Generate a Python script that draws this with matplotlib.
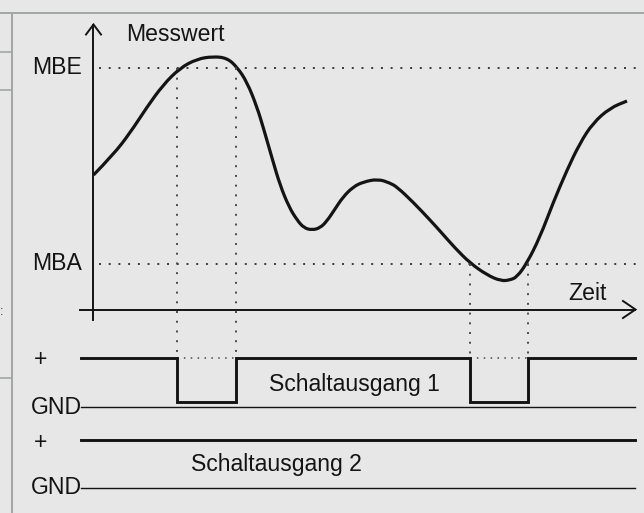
import matplotlib
matplotlib.use("Agg")
import matplotlib.pyplot as plt
from matplotlib.path import Path
from matplotlib.patches import PathPatch

plt.rcParams['font.family'] = ['Liberation Sans', 'DejaVu Sans']

# ---- data (pixel-space coordinates) ----
curve_x = [93.5, 113, 130, 147, 163, 180, 197, 213, 227, 237, 247, 257, 264, 272,
           280, 289, 297, 304, 312, 320, 327, 335, 343, 353, 363, 378, 390, 397,
           413, 430, 440, 455, 470, 487, 501, 510, 517, 527, 540, 553, 567, 580,
           593, 610, 627]
curve_y = [175, 155, 133, 107, 85, 68, 59, 56.5, 58, 67, 82, 107, 130, 158,
           185, 207, 220, 228, 230, 228, 221, 209, 197, 187, 182, 179, 183, 187,
           202, 220, 231, 248, 263, 275, 281, 280, 277, 263, 237, 203, 170, 143,
           123, 108, 101]

level_labels = ["MBE", "MBA"]
level_y = [68, 264]

switch_on_1 = [(177, 236), (470, 528)]   # time intervals where output 1 is low
signal_labels = ["Schaltausgang 1", "Schaltausgang 2"]
plus_y = [357.5, 440]
gnd_y = [407, 488]
low_y = 402
axis_label_y = "Messwert"
axis_label_x = "Zeit"

# ---- figure ----
BG = "#e6e7e6"
INK = "#141414"
GRID = "#a3a7a3"
FS = 16.6

fig = plt.figure(figsize=(6.44, 5.13), dpi=100)
fig.patch.set_facecolor(BG)
ax = fig.add_axes([0, 0, 1, 1])
ax.set_facecolor(BG)
ax.set_xlim(0, 644)
ax.set_ylim(513, 0)
ax.axis('off')

# table border fragments
ax.plot([0, 644], [13.3, 13.3], color=GRID, lw=1.4, solid_capstyle='butt')
ax.plot([12, 12], [13.3, 513], color=GRID, lw=1.4, solid_capstyle='butt')
for yy in [52, 90, 378]:
    ax.plot([0, 12], [yy, yy], color=GRID, lw=1.2, solid_capstyle='butt')
ax.text(0.3, 312, ":", fontsize=9, color="#333333", ha='left', va='center')

# axes with arrows
x0 = 93.5
xa_y = 309.5
ax.plot([x0, x0], [24.5, 320], color=INK, lw=1.4)
ax.plot([86, x0, 101], [34.5, 24.5, 34.5], color=INK, lw=1.4,
        solid_joinstyle='miter')
ax.plot([80, 635], [xa_y, xa_y], color=INK, lw=1.4)
ax.plot([623, 635.5, 623], [301, xa_y, 318], color=INK, lw=1.4,
        solid_joinstyle='miter')

# threshold dotted lines
for lab, yy in zip(level_labels, level_y):
    ax.plot([99, 636], [yy, yy], color="#3a3a3a", lw=1.4, linestyle=(0, (1, 4)))
    ax.text(32, yy + 6.5, lab, fontsize=FS, color=INK, ha='left', va='baseline')

# vertical dotted projections
for (a, b), yy in zip(switch_on_1, level_y):
    for xx in (a, b):
        ax.plot([xx, xx], [yy, plus_y[0]], color="#4a4a4a", lw=1.4,
                linestyle=(0, (1, 4)))
    ax.plot([a, b], [plus_y[0], plus_y[0]], color="#4a4a4a", lw=1.1,
            linestyle=(0, (1, 3.5)))

# measurement curve: smooth quadratic path through midpoints of the read points
pts = list(zip(curve_x, curve_y))
verts = [pts[0]]
codes = [Path.MOVETO]
for i in range(1, len(pts) - 1):
    mx = (pts[i][0] + pts[i + 1][0]) / 2
    my = (pts[i][1] + pts[i + 1][1]) / 2
    verts += [pts[i], (mx, my)]
    codes += [Path.CURVE3, Path.CURVE3]
verts.append(pts[-1])
codes.append(Path.LINETO)
ax.add_patch(PathPatch(Path(verts, codes), facecolor='none', edgecolor=INK,
                       lw=2.3, capstyle='butt', joinstyle='round'))

# switching output 1
sx = [81]
sy = [plus_y[0]]
for a, b in switch_on_1:
    sx += [a, a, b, b]
    sy += [plus_y[0], low_y, low_y, plus_y[0]]
sx.append(635)
sy.append(plus_y[0])
ax.plot(sx, sy, color=INK, lw=2.1, solid_joinstyle='miter')

# switching output 2 (constant high)
ax.plot([81, 635], [plus_y[1], plus_y[1]], color=INK, lw=2.1)

# GND lines
for gy in gnd_y:
    ax.plot([81, 635], [gy, gy], color=INK, lw=1.0)
    ax.text(31, gy + 6.5, "GND", fontsize=FS, color=INK, ha='left', va='baseline')

for py in plus_y:
    ax.text(40.5, py + 2.5, "+", fontsize=FS, color=INK, ha='center', va='center')

ax.text(354, 391, signal_labels[0], fontsize=FS, color=INK, ha='center', va='baseline')
ax.text(276, 471, signal_labels[1], fontsize=FS, color=INK, ha='center', va='baseline')

ax.text(126, 41, axis_label_y, fontsize=FS, color=INK, ha='left', va='baseline')
ax.text(568, 300.5, axis_label_x, fontsize=FS, color=INK, ha='left', va='baseline')

fig.savefig("out.png", dpi=100, facecolor=BG)
